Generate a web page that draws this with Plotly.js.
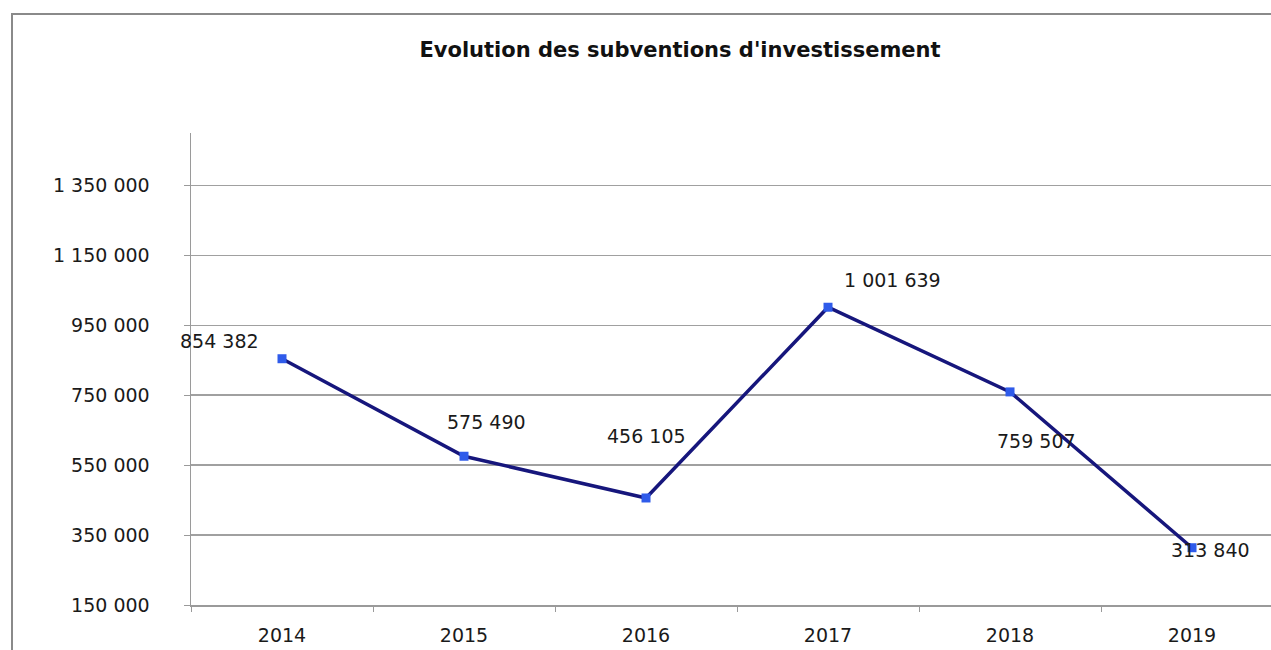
<!DOCTYPE html>
<html>
<head>
<meta charset="utf-8">
<script src="https://cdn.plot.ly/plotly-3.0.1.min.js"></script>
<style>
html,body{margin:0;padding:0;background:#fff;}
#chart{width:1271px;height:650px;}
#frame{position:absolute;left:11px;top:13px;width:1300px;height:700px;border-left:2px solid #8a8a8a;border-top:2px solid #8a8a8a;pointer-events:none;}
</style>
</head>
<body>
<div id="chart"></div>
<div id="frame"></div>
<script>
// Data
const years = ["2014", "2015", "2016", "2017", "2018", "2019"];
const subventions = [854382, 575490, 456105, 1001639, 759507, 313840];
const chartTitle = "Evolution des subventions d'investissement";
const yTickValues = [150000, 350000, 550000, 750000, 950000, 1150000, 1350000];

// label offsets (style)
const labelShiftX = [-63, 22, 0, 64, 26, 18];
const labelShiftY = [18, 34, 62, 27, -49, -2];

function fmt(v){ return String(v).replace(/\B(?=(\d{3})+(?!\d))/g, " "); }

const FONT = "DejaVu Sans, Arial, sans-serif";

const trace = {
  x: years,
  y: subventions,
  type: "scatter",
  mode: "lines+markers",
  line: {color: "#16167c", width: 3.5},
  marker: {symbol: "square", size: 9, color: "#2f5bea"},
  hoverinfo: "x+y"
};

const annotations = years.map((yr, i) => ({
  x: i, y: subventions[i], xref: "x", yref: "y",
  text: fmt(subventions[i]), showarrow: false,
  xshift: labelShiftX[i], yshift: labelShiftY[i],
  font: {family: FONT, size: 19, color: "#1a1a1a"}
}));

const layout = {
  width: 1271, height: 650,
  margin: {l: 191, r: 0, t: 133, b: 45},
  paper_bgcolor: "#fff", plot_bgcolor: "#fff",
  separators: ". ",
  showlegend: false,
  title: {
    text: "<b>" + chartTitle + "</b>",
    x: 0.535, xanchor: "center", y: 0.923, yanchor: "middle",
    font: {family: FONT, size: 21, color: "#111"}
  },
  xaxis: {
    type: "category",
    range: [-0.5, 5.434],
    showgrid: false,
    showline: true, linecolor: "#9a9a9a", linewidth: 2,
    ticks: "outside", ticklen: 5, tickcolor: "#9a9a9a", tickson: "boundaries",
    ticklabelstandoff: 12,
    tickfont: {family: FONT, size: 19, color: "#1a1a1a"},
    zeroline: false, fixedrange: true
  },
  yaxis: {
    range: [150000, 1500000],
    tickvals: yTickValues,
    tickformat: ",d",
    showgrid: true, gridcolor: "#a0a0a0", gridwidth: 1.5,
    showline: true, linecolor: "#9a9a9a", linewidth: 1.5,
    ticks: "outside", ticklen: 6, tickcolor: "#9a9a9a",
    ticklabelstandoff: 30,
    tickfont: {family: FONT, size: 19, color: "#1a1a1a"},
    zeroline: false, fixedrange: true
  },
  annotations: annotations
};

Plotly.newPlot("chart", [trace], layout, {displayModeBar: false, staticPlot: true});
</script>
</body>
</html>
